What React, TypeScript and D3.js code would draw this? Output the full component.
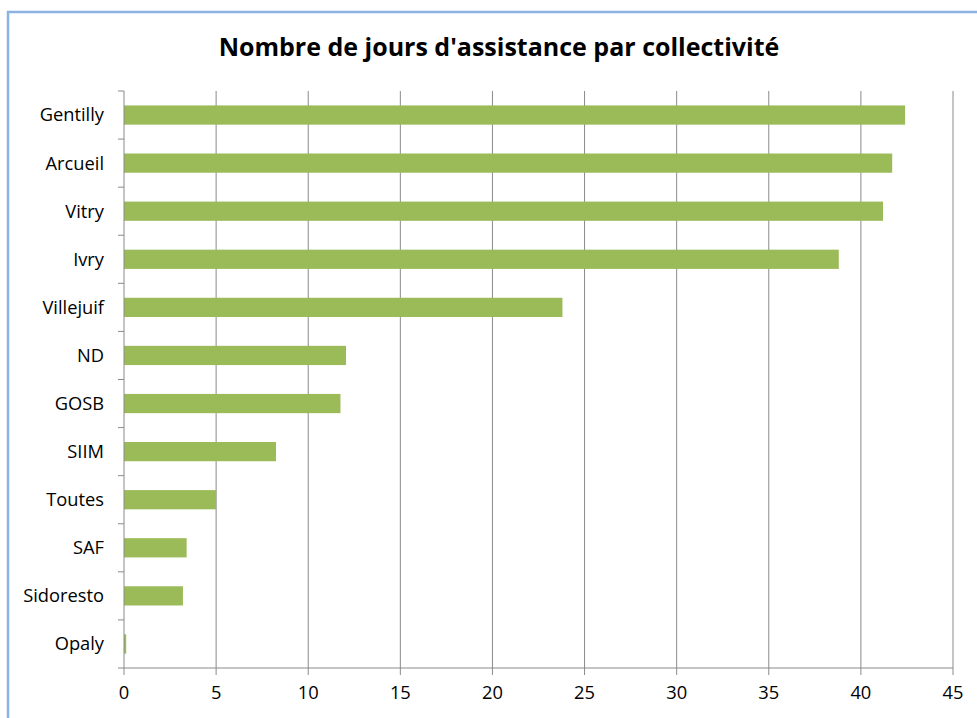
import React from "react";
import * as d3 from "d3";

const categories = ["Gentilly", "Arcueil", "Vitry", "Ivry", "Villejuif", "ND", "GOSB", "SIIM", "Toutes", "SAF", "Sidoresto", "Opaly"];
const values = [42.4, 41.7, 41.2, 38.8, 23.8, 12.05, 11.75, 8.25, 5.0, 3.4, 3.2, 0.12];
const xTicks = [0, 5, 10, 15, 20, 25, 30, 35, 40, 45];
const title = "Nombre de jours d'assistance par collectivité";

const W = 977;
const H = 718;
const left = 124;
const right = 953;
const top = 91;
const bottom = 668;
const font = "'Open Sans', Lato, sans-serif";

export default function App() {
  const x = d3.scaleLinear().domain([0, 45]).range([left, right]);
  const y = d3.scaleBand<string>().domain(categories).range([top, bottom]).paddingInner(0.6).paddingOuter(0.3);
  const bounds = d3.range(categories.length + 1).map((i) => top + i * ((bottom - top) / categories.length));

  return (
    <svg width={W} height={H} style={{ position: "absolute", left: 0, top: 0, background: "#fff" }}>
      <rect x={0} y={0} width={W} height={H} fill="#fff" />
      <line x1={8} y1={11} x2={8} y2={H} stroke="#8db3e2" strokeWidth={2.5} />
      <line x1={7} y1={12} x2={W} y2={12} stroke="#8db3e2" strokeWidth={2.5} />
      <text x={499} y={56} textAnchor="middle" fontFamily={font} fontWeight="bold" fontSize={25} fill="#000">
        {title}
      </text>
      {xTicks.slice(1).map((t) => (
        <line key={"g" + t} x1={x(t)} x2={x(t)} y1={top} y2={bottom} stroke="#8a8a8a" strokeWidth={1} />
      ))}
      {categories.map((c, i) => (
        <rect key={c} x={x(0)} y={y(c)} width={x(values[i]) - x(0)} height={y.bandwidth()} fill="#9bbb59" />
      ))}
      <line x1={left} x2={left} y1={top} y2={bottom} stroke="#8a8a8a" strokeWidth={1} />
      <line x1={left} x2={right} y1={bottom} y2={bottom} stroke="#8a8a8a" strokeWidth={1} />
      {bounds.map((b, i) => (
        <line key={"yt" + i} x1={left - 6} x2={left} y1={b} y2={b} stroke="#8a8a8a" strokeWidth={1} />
      ))}
      {xTicks.map((t) => (
        <line key={"xt" + t} x1={x(t)} x2={x(t)} y1={bottom} y2={bottom + 7} stroke="#8a8a8a" strokeWidth={1} />
      ))}
      {categories.map((c) => (
        <text key={"l" + c} x={104} y={(y(c) ?? 0) + y.bandwidth() / 2} dy="0.35em" textAnchor="end" fontFamily={font} fontSize={18.3} fill="#000">
          {c}
        </text>
      ))}
      {xTicks.map((t) => (
        <text key={"xl" + t} x={x(t)} y={693} dy="0.35em" textAnchor="middle" fontFamily={font} fontSize={18.3} fill="#000">
          {t}
        </text>
      ))}
    </svg>
  );
}
